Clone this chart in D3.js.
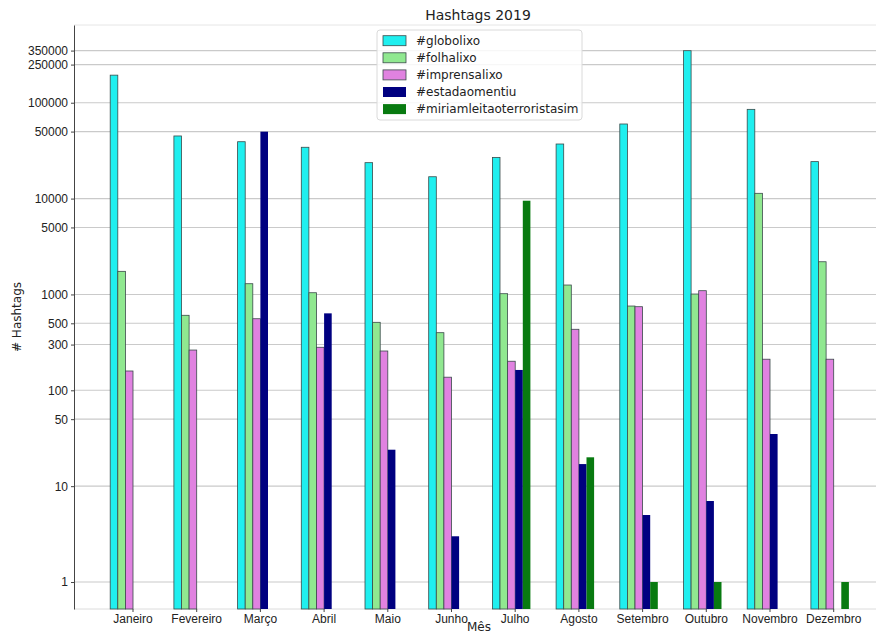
<!DOCTYPE html>
<html>
<head>
<meta charset="utf-8">
<script src="https://cdn.jsdelivr.net/npm/d3@7"></script>
<style>
  body { margin: 0; background: #fff; }
  svg { font-family: "DejaVu Sans", sans-serif; }
</style>
</head>
<body>
<script>
// Data (log scale, 0 = no bar)
const months = ["Janeiro", "Fevereiro", "Março", "Abril", "Maio", "Junho", "Julho", "Agosto", "Setembro", "Outubro", "Novembro", "Dezembro"];
const seriesNames = ["#globolixo", "#folhalixo", "#imprensalixo", "#estadaomentiu", "#miriamleitaoterroristasim"];
const globolixo = [194000, 45000, 39200, 34300, 23700, 16900, 26900, 37100, 60000, 349000, 85300, 24300];
const folhalixo = [1742, 606, 1294, 1042, 512, 399, 1018, 1254, 757, 1010, 11350, 2193];
const imprensalixo = [159, 263, 558, 281, 257, 137, 201, 433, 745, 1094, 211, 211];
const estadaomentiu = [0, 0, 49900, 635, 24, 3, 163, 17, 5, 7, 35, 0];
const miriamleitao = [0, 0, 0, 0, 0, 0, 9500, 20, 1, 1, 0, 1];
const yTicks = [1, 10, 50, 100, 300, 500, 1000, 5000, 10000, 50000, 100000, 250000, 350000];
const colors = ["#1fefef", "#90e890", "#e082e0", "#000080", "#087a10"];

const seriesValues = [globolixo, folhalixo, imprensalixo, estadaomentiu, miriamleitao];

const width = 876, height = 635;
const plot = { left: 74, right: 882, top: 25, bottom: 609 };

const svg = d3.select("body")
    .append("svg")
    .attr("width", width)
    .attr("height", height);

// Scales
const y = d3.scaleLog()
    .domain([0.523, 647000])
    .range([plot.bottom, plot.top]);

const step = 63.7;
const groupWidth = 38;
const x = d3.scaleBand()
    .domain(months)
    .range([110.2, 110.2 + step * (months.length - (1 - groupWidth / step))])
    .paddingInner(1 - groupWidth / step)
    .paddingOuter(0)
    .align(0);

const xs = d3.scaleBand()
    .domain(seriesNames)
    .range([0, x.bandwidth()]);

// Gridlines
svg.append("g")
    .selectAll("line")
    .data(yTicks)
    .enter()
    .append("line")
    .attr("x1", plot.left)
    .attr("x2", plot.right)
    .attr("y1", d => y(d))
    .attr("y2", d => y(d))
    .style("stroke", "#cacaca")
    .style("stroke-width", 1.1);

// top and bottom frame lines (light)
svg.append("line")
    .attr("x1", plot.left).attr("x2", plot.right)
    .attr("y1", plot.top).attr("y2", plot.top)
    .style("stroke", "#e6e6e6");
svg.append("line")
    .attr("x1", plot.left).attr("x2", plot.right)
    .attr("y1", plot.bottom).attr("y2", plot.bottom)
    .style("stroke", "#dcdcdc");

// Bars
seriesNames.forEach(function(name, si) {
    const rows = months.map((m, i) => ({ month: m, value: seriesValues[si][i] }))
        .filter(d => d.value > 0);
    svg.append("g")
        .selectAll("rect")
        .data(rows)
        .enter()
        .append("rect")
        .attr("x", d => x(d.month) + xs(name))
        .attr("y", d => y(d.value))
        .attr("width", xs.bandwidth())
        .attr("height", d => plot.bottom - y(d.value))
        .style("fill", colors[si])
        .style("stroke", si < 3 ? "#3a4a4a" : "none")
        .style("stroke-width", 0.8);
});

// Y axis
const yAxis = svg.append("g")
    .attr("transform", `translate(${plot.left},0)`)
    .call(d3.axisLeft(y).tickValues(yTicks).tickFormat(d3.format("d"))
        .tickSize(3).tickSizeOuter(0).tickPadding(3));
yAxis.select(".domain").style("stroke", "#444");
yAxis.selectAll(".tick line").style("stroke", "#444");
yAxis.selectAll("text")
    .style("font-size", "12px")
    .style("fill", "#222");

// X axis (ticks sit half a bar right of the group centre)
const xAxis = svg.append("g")
    .attr("transform", `translate(${xs.bandwidth() / 2},${plot.bottom})`)
    .call(d3.axisBottom(x).tickSize(3).tickPadding(2));
xAxis.select(".domain").remove();
xAxis.selectAll(".tick line").style("stroke", "#444");
xAxis.selectAll("text")
    .style("font-size", "12px")
    .style("fill", "#222");

// Title and axis labels
svg.append("text")
    .attr("x", 478)
    .attr("y", 20)
    .attr("text-anchor", "middle")
    .style("font-size", "14px")
    .style("fill", "#222")
    .text("Hashtags 2019");

svg.append("text")
    .attr("transform", `translate(21,${(plot.top + plot.bottom) / 2}) rotate(-90)`)
    .attr("text-anchor", "middle")
    .style("font-size", "12px")
    .style("fill", "#222")
    .text("# Hashtags");

svg.append("text")
    .attr("x", 479)
    .attr("y", 631)
    .attr("text-anchor", "middle")
    .style("font-size", "12px")
    .style("fill", "#222")
    .text("Mês");

// Legend
const legend = svg.append("g").attr("transform", "translate(377,30)");
legend.append("rect")
    .attr("width", 205)
    .attr("height", 90)
    .attr("rx", 3)
    .style("fill", "white")
    .style("fill-opacity", 0.85)
    .style("stroke", "#dadada");

const items = legend.selectAll(".item")
    .data(seriesNames)
    .enter()
    .append("g")
    .attr("transform", (d, i) => `translate(6,${10.7 + i * 17.1})`);
items.append("rect")
    .attr("x", 0)
    .attr("y", -5)
    .attr("width", 23)
    .attr("height", 10)
    .style("fill", (d, i) => colors[i])
    .style("stroke", (d, i) => i < 3 ? "#3a4a4a" : "none")
    .style("stroke-width", 0.8);
items.append("text")
    .attr("x", 33)
    .attr("y", 0)
    .attr("dy", "0.35em")
    .style("font-size", "12px")
    .style("fill", "#222")
    .text(d => d);
</script>
</body>
</html>
